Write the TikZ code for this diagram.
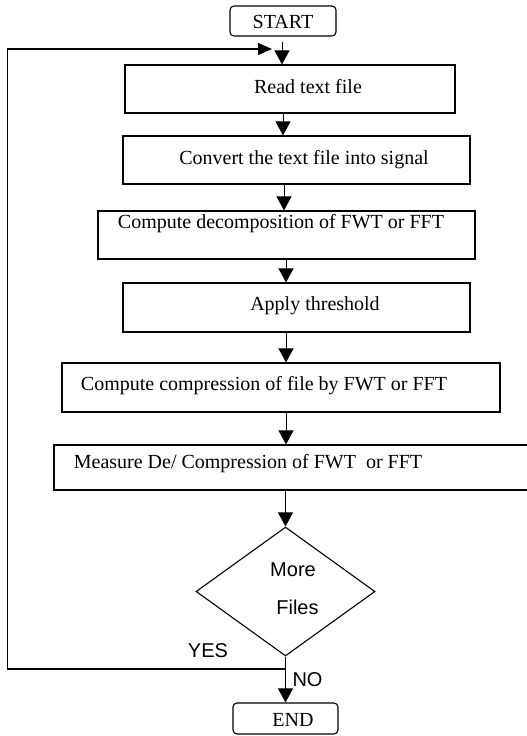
\documentclass[tikz,border=0pt]{standalone}
\usepackage{fontspec}
\setmainfont{Liberation Serif}
\newfontfamily\arialf{Liberation Sans}
\usetikzlibrary{shapes.geometric,arrows.meta,calc}
\begin{document}
\begin{tikzpicture}[x=1pt,y=-1pt,
  box/.style={draw, line width=1.2pt, inner sep=0pt},
  term/.style={draw, line width=1.1pt, rounded corners=4pt, inner sep=0pt},
  txt/.style={font=\fontsize{20}{24}\selectfont, inner sep=0pt},
  stxt/.style={font=\arialf\fontsize{20}{24}\selectfont, inner sep=0pt},
  arr/.style={line width=0.8pt, -{Triangle[width=15pt,length=14pt]}},
  loopline/.style={line width=1.2pt, -{Triangle[width=12pt,length=14pt]}}]
\useasboundingbox (0,0) rectangle (527,736);

% terminals
\node[term, minimum width=106pt, minimum height=30pt] (start) at (283,21) {};
\node[txt] (tstart) at (283,22) {START};
\node[term, minimum width=105pt, minimum height=31pt] (end) at (285.5,718.5) {};
\node[txt] (tend) at (293,720) {END};

% process boxes
\node[box, minimum width=330pt, minimum height=48pt] (b1) at (290,89) {};
\node[txt] (t1) at (308,86.5) {Read text file};
\node[box, minimum width=347pt, minimum height=48pt] (b2) at (296.5,160) {};
\node[txt] (t2) at (304,160) {Convert the text file into signal};
\node[box, minimum width=377pt, minimum height=48pt] (b3) at (286.5,235) {};
\node[txt] (t3) at (281,224) {Compute decomposition of FWT or FFT};
\node[box, minimum width=347pt, minimum height=49pt] (b4) at (296.5,307.5) {};
\node[txt] (t4) at (315,305.5) {Apply threshold};
\node[box, minimum width=438pt, minimum height=49pt] (b5) at (281,387.5) {};
\node[txt] (t5) at (264,385.5) {Compute compression of file by FWT or FFT};
\node[box, minimum width=481pt, minimum height=45pt] (b6) at (294.5,467.5) {};
\node[txt] (t6) at (248,464) {Measure De/ Compression of FWT\ \ or FFT};

% decision
\node[diamond, draw, line width=1.1pt, minimum width=179pt, minimum height=129pt, inner sep=0pt] (dia) at (285.5,591.5) {};
\node[stxt] (tmore) at (293,570) {More};
\node[stxt] (tfiles) at (297.5,607.5) {Files};
\node[stxt] (tyes) at (208,650.5) {YES};
\node[stxt] (tno) at (307.5,680) {NO};

% connectors
\draw[arr] ($(start.south)+(-1,5)$) -- ([xshift=-8pt]b1.north);
\draw[arr] ([xshift=-7pt]b1.south) -- ([xshift=-13.5pt]b2.north);
\draw[arr] ([xshift=-12.5pt]b2.south) -- ([xshift=-2.5pt]b3.north);
\draw[arr] ([xshift=-0.5pt]b3.south) -- ([xshift=-10.5pt]b4.north);
\draw[arr] ([xshift=-10.5pt]b4.south) -- ([xshift=5pt]b5.north);
\draw[arr] ([xshift=5pt]b5.south) -- ([xshift=-8.5pt]b6.north);
\draw[arr] ([xshift=-9pt]b6.south) -- (dia.north);
\draw[arr] (dia.south) -- (end.north);

% loop back
\coordinate (j) at (285.5,669);
\coordinate (lc) at (7.5,49);
\coordinate (lt) at (272,49);
\draw[loopline] (j) -| (lc) -- (lt);
\end{tikzpicture}
\end{document}
